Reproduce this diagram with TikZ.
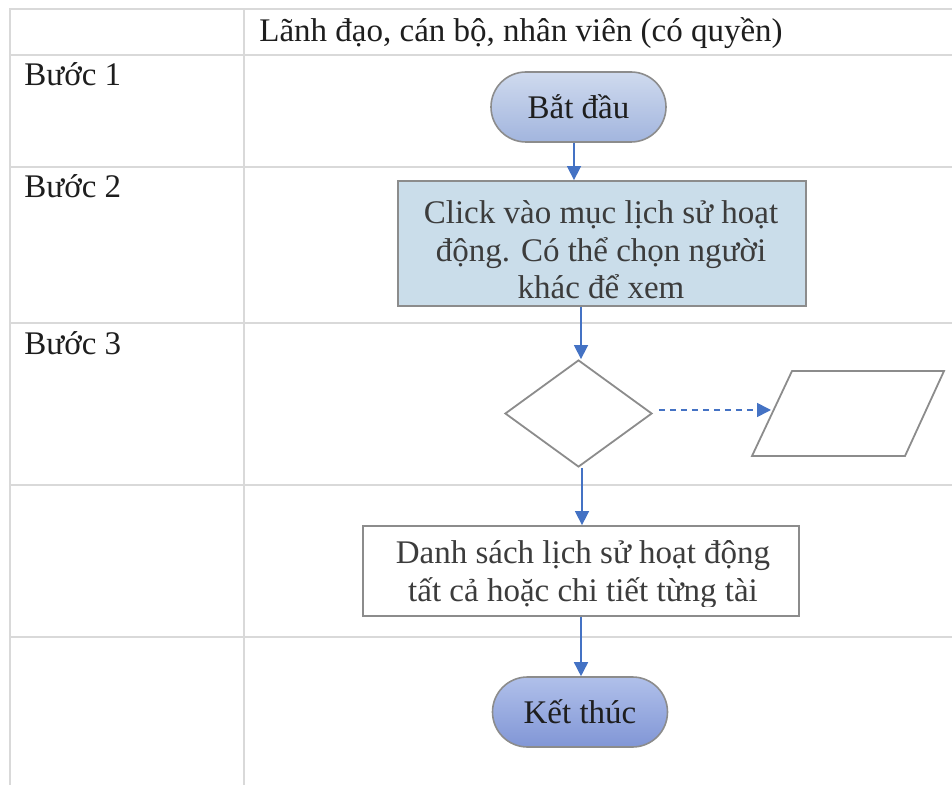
\documentclass[tikz,border=0pt]{standalone}
\usepackage{fontspec}
\setmainfont{Liberation Serif}
\usetikzlibrary{shapes.geometric,shapes.misc,arrows.meta}
\definecolor{gridc}{HTML}{D9D9D9}
\definecolor{arrc}{HTML}{4472C4}
\definecolor{shapeb}{HTML}{8C8C8C}
\definecolor{procfill}{HTML}{CADDEA}
\definecolor{txtc}{HTML}{1E1E1E}
\definecolor{txtg}{HTML}{3C3C3C}
\definecolor{stTop}{HTML}{CFDAEE}
\definecolor{stBot}{HTML}{A2B5DE}
\definecolor{enTop}{HTML}{B0C0EA}
\definecolor{enBot}{HTML}{8196D6}
\tikzset{
  grid/.style={draw=gridc, line width=1.2pt},
  flow/.style={draw=arrc, line width=0.8pt, -{Triangle[length=7pt,width=7pt]}},
  dflow/.style={flow, dash pattern=on 3pt off 2.5pt},
  pill/.style={rounded rectangle, draw=shapeb, line width=0.8pt, minimum width=87.5pt, minimum height=35pt, inner sep=0pt, text=txtc},
  lbl/.style={anchor=north west, inner sep=0pt, text=txtc},
  shp/.style={draw=shapeb, line width=0.9pt}
}
\begin{document}
\begin{tikzpicture}[x=0.5pt,y=-0.5pt, font=\fontsize{16.5pt}{18.75pt}\selectfont]
\useasboundingbox (0,0) rectangle (952,785);
% grid
\draw[grid] (10,785) -- (10,9) -- (952,9);
\draw[grid] (244,9) -- (244,785);
\foreach \yy in {55,167,323,485,637} \draw[grid] (10,\yy) -- (952,\yy);
% labels
\node[lbl] (h) at (259,17) {Lãnh đạo, cán bộ, nhân viên (có quyền)};
\node[lbl] (b1) at (24,62) {Bước 1};
\node[lbl] (b2) at (24,174) {Bước 2};
\node[lbl] (b3) at (24,331) {Bước 3};
% start
\node[pill, top color=stTop, bottom color=stBot] (start) at (578.5,107) {Bắt đầu};
% process 1
\node[shp, fill=procfill, minimum width=204pt, minimum height=62.5pt, inner sep=0pt] (p1) at (602,243.5) {};
\node[text=txtg, align=center, inner sep=0pt] (p1t) at (601,250)
  {Click vào mục lịch sử hoạt\\động. Có thể chọn người\\khác để xem};
% decision
\node[shp, diamond, fill=white, minimum width=73.5pt, minimum height=53.5pt, inner sep=0pt, aspect=1.37] (d) at (578.5,413.5) {};
% data parallelogram
\draw[shp] (792,371) -- (944,371) -- (905,456) -- (752,456) -- cycle;
\coordinate (pin) at (771,410);
% process 2
\node[shp, fill=white, minimum width=218pt, minimum height=45pt, inner sep=0pt] (p2) at (581,571) {};
\begin{scope}
\clip (364,527) rectangle (798,606);
\node[text=txtg, align=center, inner sep=0pt, font=\fontsize{16.5pt}{19pt}\selectfont] (p2t) at (583,575) {Danh sách lịch sử hoạt động\\tất cả hoặc chi tiết từng tài};
\end{scope}
% end
\node[pill, top color=enTop, bottom color=enBot] (end) at (580,712) {Kết thúc};
% columns for vertical connectors
\coordinate (cA) at (574,0);
\coordinate (cB) at (581,0);
\coordinate (cC) at (582,0);
% connectors
\draw[flow] (start.south -| cA) -- (p1.north -| cA);
\draw[flow] (p1.south -| cB) -- (d.north -| cB);
\draw[dflow] ([xshift=3pt]d.east |- pin) -- (pin);
\draw[flow] (d.south -| cC) -- (p2.north -| cC);
\draw[flow] (p2.south -| cB) -- (end.north -| cB);
\end{tikzpicture}
\end{document}
